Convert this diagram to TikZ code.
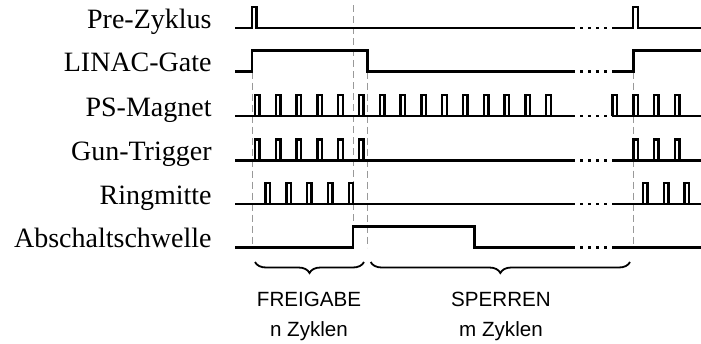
\documentclass[tikz,border=0pt]{standalone}
\usepackage{fontspec}
\setmainfont{Liberation Serif}
\setsansfont{Liberation Sans}
\usetikzlibrary{decorations.pathreplacing}

\begin{document}
\begin{tikzpicture}[x=0.5pt,y=-0.5pt]

		\tikzstyle{signal}=[draw=black,line width=1.2pt,line join=miter]
		\tikzstyle{gap}=[draw=black,line width=1.2pt,dash pattern=on 1.3pt off 2.7pt]
		\tikzstyle{marker}=[draw=gray!80,line width=0.5pt,dash pattern=on 3.5pt off 2pt]
		\tikzstyle{label}=[anchor=base east,inner sep=0pt,font=\fontsize{14}{16}\selectfont]
		\tikzstyle{phase}=[anchor=base,inner sep=0pt,font=\sffamily\fontsize{10.3}{12}\selectfont]
		\tikzstyle{bracket}=[draw=black,line width=0.9pt,
			decorate,decoration={brace,mirror,amplitude=5.5pt}]

		\useasboundingbox (0,0) rectangle (701,343);

		% signal names
		\node[label]	(pre)	at (212,28)	{Pre-Zyklus};
		\node[label]	(linac)	at (212,71.5)	{LINAC-Gate};
		\node[label]	(ps)	at (212,116)	{PS-Magnet};
		\node[label]	(gun)	at (212,160.5)	{Gun-Trigger};
		\node[label]	(ring)	at (212,204)	{Ringmitte};
		\node[label]	(thr)	at (212,247.5)	{Abschaltschwelle};

		% time markers
		\draw[marker]	(252,71.5)	-- (252,247.5);
		\draw[marker]	(353,5)		-- (353,247.5);
		\draw[marker]	(367.3,71.5)	-- (367.3,247.5);
		\draw[marker]	(633.3,71.5)	-- (633.3,247.5);

		% interrupted time axis on every row
		\foreach \y in {28,71.5,116,160.5,204,247.5}
			\draw[gap]	(572,\y) -- (612,\y);

		% Pre-Zyklus
		\draw[signal]	(235,28) -- (252,28) |- (256.5,7) -- (256.5,28) -- (572,28);
		\draw[signal]	(612,28) -- (632.7,28) |- (638,7) -- (638,28) -- (701,28);

		% LINAC-Gate
		\draw[signal]	(235,71.5) -- (252,71.5) |- (367.3,50.5) -- (367.3,71.5) -- (572,71.5);
		\draw[signal]	(612,71.5) -- (633.3,71.5) |- (701,50.5);

		% PS-Magnet
		\draw[signal]	(235,116) -- (572,116);
		\draw[signal]	(612,116) -- (701,116);
		\foreach \x in {255,275.8,...,547}
			\draw[signal]	(\x,116) |- (\x+4.5,95) -- (\x+4.5,116);
		\foreach \x in {612.5,633.3,654.1,674.9}
			\draw[signal]	(\x,116) |- (\x+4.5,95) -- (\x+4.5,116);

		% Gun-Trigger
		\draw[signal]	(235,160.5) -- (572,160.5);
		\draw[signal]	(612,160.5) -- (701,160.5);
		\foreach \x in {255,275.8,...,360}
			\draw[signal]	(\x,160.5) |- (\x+4.5,139.5) -- (\x+4.5,160.5);
		\foreach \x in {633.3,654.1,674.9}
			\draw[signal]	(\x,160.5) |- (\x+4.5,139.5) -- (\x+4.5,160.5);

		% Ringmitte
		\draw[signal]	(235,204) -- (572,204);
		\draw[signal]	(612,204) -- (701,204);
		\foreach \x in {265.5,286.3,...,350}
			\draw[signal]	(\x,204) |- (\x+4.5,183) -- (\x+4.5,204);
		\foreach \x in {643,663.8,684.6}
			\draw[signal]	(\x,204) |- (\x+4.5,183) -- (\x+4.5,204);

		% Abschaltschwelle
		\draw[signal]	(235,247.5) -- (353,247.5) |- (474.5,226.5) -- (474.5,247.5) -- (572,247.5);
		\draw[signal]	(612,247.5) -- (701,247.5);

		% phases
		\coordinate	(fa)	at (255,262);
		\coordinate	(fb)	at (364,262);
		\coordinate	(sa)	at (370.7,262);
		\coordinate	(sb)	at (630,262);
		\draw[bracket]	(fa) -- (fb);
		\draw[bracket]	(sa) -- (sb);

		\node[phase]	(free)	at (309,306)	{FREIGABE};
		\node[phase]	(nfree)	at (309,336)	{n Zyklen};
		\node[phase]	(lock)	at (501,306)	{SPERREN};
		\node[phase]	(nlock)	at (501,336)	{m Zyklen};

	\end{tikzpicture}
\end{document}
